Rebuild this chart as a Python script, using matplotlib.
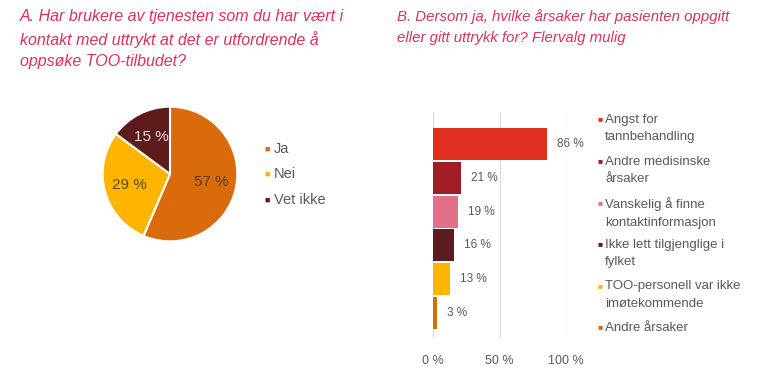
import matplotlib
matplotlib.use('Agg')
import matplotlib.pyplot as plt

plt.rcParams['font.family'] = ['Liberation Sans', 'DejaVu Sans']

# data
pie_labels = ['Ja', 'Nei', 'Vet ikke']
pie_values = [57, 29, 15]
pie_colors = ['#D96B0C', '#FFB400', '#5E1B1C']
pie_text_colors = ['#5a3a20', '#5a4a20', '#e8e0e0']

bar_labels = ['Angst for\ntannbehandling', 'Andre medisinske\nårsaker',
              'Vanskelig å finne\nkontaktinformasjon', 'Ikke lett tilgjenglige i\nfylket',
              'TOO-personell var ikke\nimøtekommende', 'Andre årsaker']
bar_values = [86, 21, 19, 16, 13, 3]
bar_colors = ['#E1301F', '#A21C23', '#E27089', '#5C1B1E', '#FFB400', '#D96B0C']

W, H = 768, 379
title_col = '#D6335C'
gray = '#595959'

fig = plt.figure(figsize=(W / 100, H / 100), dpi=100)

def px(x, y, w, h):
    # pixel box (top-left origin) -> figure fraction
    return [x / W, 1 - (y + h) / H, w / W, h / H]

# titles
fig.text(20 / W, 1 - 9 / H, 'A. Har brukere av tjenesten som du har vært i\n'
         'kontakt med uttrykt at det er utfordrende å\noppsøke TOO-tilbudet?',
         ha='left', va='top', fontsize=11.5, style='italic', color=title_col, linespacing=1.52)
fig.text(397 / W, 1 - 9 / H, 'B. Dersom ja, hvilke årsaker har pasienten oppgitt\n'
         'eller gitt uttrykk for? Flervalg mulig',
         ha='left', va='top', fontsize=10.8, style='italic', color=title_col, linespacing=1.62)

# pie
r = 68
ax1 = fig.add_axes(px(170 - r, 174 - r, 2 * r, 2 * r))
vals = iter(pie_values)
wedges, texts, autotexts = ax1.pie(pie_values, colors=pie_colors, startangle=90, counterclock=False,
                                   autopct=lambda p: f'{next(vals)} %', pctdistance=0.62,
                                   wedgeprops=dict(edgecolor='white', linewidth=1.5))
for t, c in zip(autotexts, pie_text_colors):
    t.set_color(c)
    t.set_fontsize(11)
ax1.set_xlim(-1.01, 1.01)
ax1.set_ylim(-1.01, 1.01)
ax1.set_aspect('equal')

for i, (lab, col) in enumerate(zip(pie_labels, pie_colors)):
    y = 149 + i * 25.5
    fig.text(264 / W, 1 - y / H, '■', color=col, fontsize=6.5, ha='left', va='center')
    fig.text(274 / W, 1 - y / H, lab, color=gray, fontsize=10.5, ha='left', va='center')

# bars
ax2 = fig.add_axes(px(433, 112, 133, 226))
pos = list(range(len(bar_values)))
ax2.barh(pos, bar_values, color=bar_colors, height=0.95, zorder=2)
ax2.set_ylim(5.74, -0.95)
ax2.set_xlim(0, 100)
ax2.set_xticks([0, 50, 100])
ax2.set_xticklabels(['0 %', '50 %', '100 %'])
ax2.tick_params(axis='x', length=0, labelsize=9, labelcolor=gray, pad=12)
ax2.set_yticks([])
ax2.grid(axis='x', color='#d9d9d9', linewidth=0.8, zorder=0)
for s in ax2.spines.values():
    s.set_visible(False)
for p, v in zip(pos, bar_values):
    ax2.annotate(f'{v} %', (v, p), xytext=(7, 0), textcoords='offset points',
                 va='center', ha='left', fontsize=8.5, color=gray)

for i, (lab, col) in enumerate(zip(bar_labels, bar_colors)):
    y = 120 + i * 41.6
    fig.text(597 / W, 1 - y / H, '■', color=col, fontsize=6, ha='left', va='center')
    fig.text(605 / W, 1 - (y - 6) / H, lab, color=gray, fontsize=9.5, ha='left', va='top',
             linespacing=1.6)

fig.savefig('out.png', dpi=100)
